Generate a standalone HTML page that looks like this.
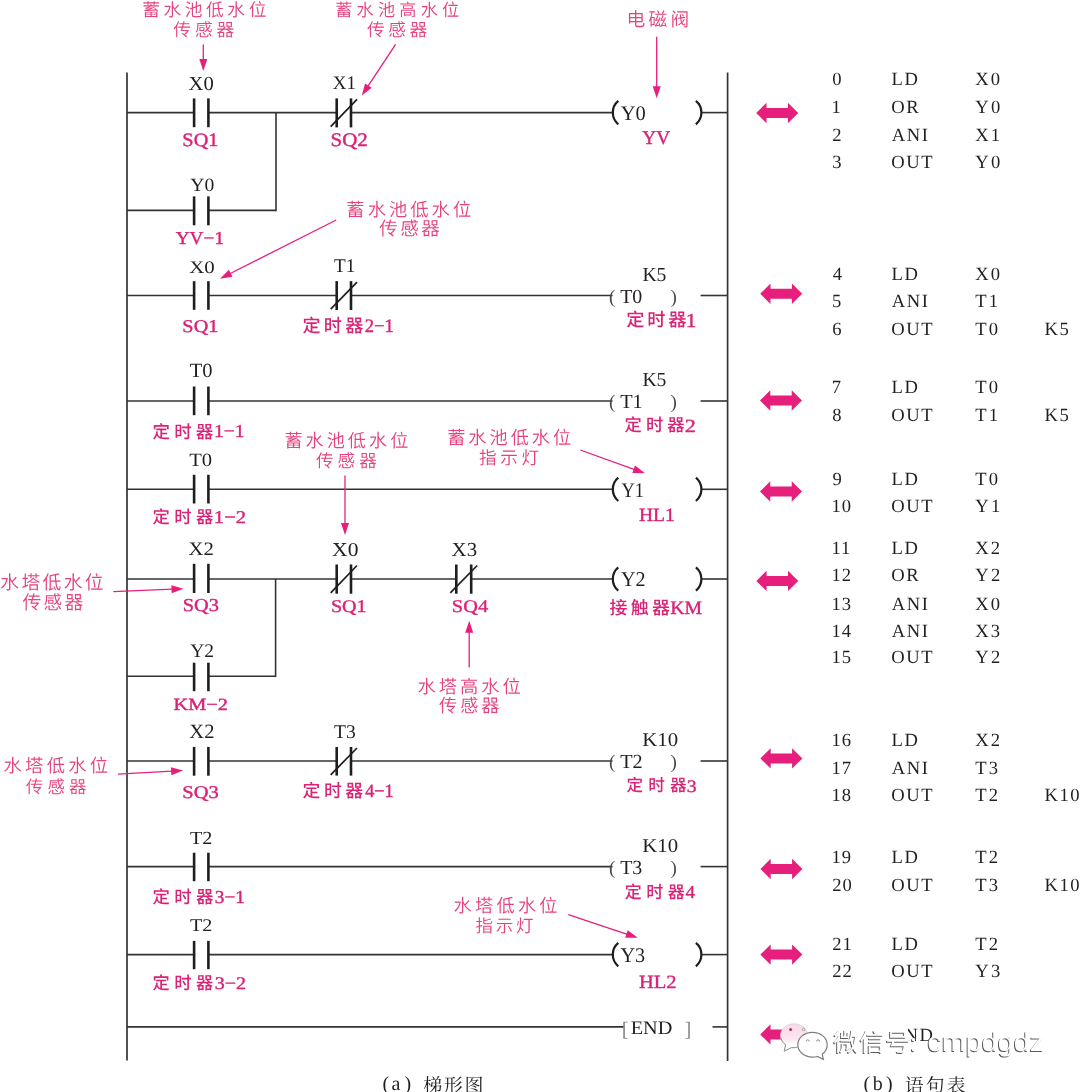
<!DOCTYPE html>
<html><head><meta charset="utf-8"><title>PLC ladder</title>
<style>html,body{margin:0;padding:0;background:#fff;overflow:hidden;width:1080px;height:1092px;}svg{display:block;}</style></head>
<body><svg width="1080" height="1092" viewBox="0 0 1080 1092" text-rendering="geometricPrecision">
<rect width="1080" height="1092" fill="#ffffff"/>
<line x1="127" y1="72.5" x2="127" y2="1060.5" stroke="#333333" stroke-width="1.7"/>
<line x1="727.6" y1="72.5" x2="727.6" y2="1061" stroke="#333333" stroke-width="1.7"/>
<line x1="127" y1="112.6" x2="194.1" y2="112.6" stroke="#333333" stroke-width="1.6"/>
<line x1="208.4" y1="112.6" x2="336.7" y2="112.6" stroke="#333333" stroke-width="1.6"/>
<line x1="351.0" y1="112.6" x2="614" y2="112.6" stroke="#333333" stroke-width="1.6"/>
<line x1="701" y1="112.6" x2="727.6" y2="112.6" stroke="#333333" stroke-width="1.6"/>
<line x1="127" y1="210.4" x2="194.1" y2="210.4" stroke="#333333" stroke-width="1.6"/>
<line x1="208.4" y1="210.4" x2="276" y2="210.4" stroke="#333333" stroke-width="1.6"/>
<line x1="276" y1="112.6" x2="276" y2="211.20000000000002" stroke="#333333" stroke-width="1.6"/>
<line x1="194.1" y1="98.4" x2="194.1" y2="127.2" stroke="#1e1e1e" stroke-width="2.6"/>
<line x1="208.4" y1="98.4" x2="208.4" y2="127.2" stroke="#1e1e1e" stroke-width="2.6"/>
<line x1="194.1" y1="196.4" x2="194.1" y2="225.3" stroke="#1e1e1e" stroke-width="2.6"/>
<line x1="208.4" y1="196.4" x2="208.4" y2="225.3" stroke="#1e1e1e" stroke-width="2.6"/>
<line x1="336.7" y1="98.4" x2="336.7" y2="127.4" stroke="#1e1e1e" stroke-width="2.6"/>
<line x1="351.0" y1="98.4" x2="351.0" y2="127.4" stroke="#1e1e1e" stroke-width="2.6"/>
<line x1="330.7" y1="126.60000000000001" x2="357.0" y2="99.4" stroke="#1e1e1e" stroke-width="1.7"/>
<path d="M618.30,100.90 A15.19,15.19 0 0 0 618.30,124.30" fill="none" stroke="#1e1e1e" stroke-width="2.2"/>
<path d="M695.90,100.90 A15.19,15.19 0 0 1 695.90,124.30" fill="none" stroke="#1e1e1e" stroke-width="2.2"/>
<line x1="127" y1="295.5" x2="194.1" y2="295.5" stroke="#333333" stroke-width="1.6"/>
<line x1="208.4" y1="295.5" x2="336.7" y2="295.5" stroke="#333333" stroke-width="1.6"/>
<line x1="351.0" y1="295.5" x2="612.5" y2="295.5" stroke="#333333" stroke-width="1.6"/>
<line x1="700.6" y1="295.5" x2="727.6" y2="295.5" stroke="#333333" stroke-width="1.6"/>
<line x1="194.1" y1="281.2" x2="194.1" y2="309.8" stroke="#1e1e1e" stroke-width="2.6"/>
<line x1="208.4" y1="281.2" x2="208.4" y2="309.8" stroke="#1e1e1e" stroke-width="2.6"/>
<line x1="336.7" y1="281.1" x2="336.7" y2="310" stroke="#1e1e1e" stroke-width="2.6"/>
<line x1="351.0" y1="281.1" x2="351.0" y2="310" stroke="#1e1e1e" stroke-width="2.6"/>
<line x1="330.7" y1="309.2" x2="357.0" y2="282.1" stroke="#1e1e1e" stroke-width="1.7"/>
<line x1="127" y1="401.0" x2="194.1" y2="401.0" stroke="#333333" stroke-width="1.6"/>
<line x1="208.4" y1="401.0" x2="612.5" y2="401.0" stroke="#333333" stroke-width="1.6"/>
<line x1="700.6" y1="401.0" x2="727.6" y2="401.0" stroke="#333333" stroke-width="1.6"/>
<line x1="194.1" y1="386.5" x2="194.1" y2="415.2" stroke="#1e1e1e" stroke-width="2.6"/>
<line x1="208.4" y1="386.5" x2="208.4" y2="415.2" stroke="#1e1e1e" stroke-width="2.6"/>
<line x1="127" y1="489.3" x2="194.1" y2="489.3" stroke="#333333" stroke-width="1.6"/>
<line x1="208.4" y1="489.3" x2="614" y2="489.3" stroke="#333333" stroke-width="1.6"/>
<line x1="701" y1="489.3" x2="727.6" y2="489.3" stroke="#333333" stroke-width="1.6"/>
<line x1="194.1" y1="474.8" x2="194.1" y2="503.5" stroke="#1e1e1e" stroke-width="2.6"/>
<line x1="208.4" y1="474.8" x2="208.4" y2="503.5" stroke="#1e1e1e" stroke-width="2.6"/>
<path d="M618.30,477.60 A15.19,15.19 0 0 0 618.30,501.00" fill="none" stroke="#1e1e1e" stroke-width="2.2"/>
<path d="M695.90,477.60 A15.19,15.19 0 0 1 695.90,501.00" fill="none" stroke="#1e1e1e" stroke-width="2.2"/>
<line x1="127" y1="579.0" x2="194.1" y2="579.0" stroke="#333333" stroke-width="1.6"/>
<line x1="208.4" y1="579.0" x2="336.7" y2="579.0" stroke="#333333" stroke-width="1.6"/>
<line x1="351.0" y1="579.0" x2="456.3" y2="579.0" stroke="#333333" stroke-width="1.6"/>
<line x1="471.2" y1="579.0" x2="614" y2="579.0" stroke="#333333" stroke-width="1.6"/>
<line x1="701" y1="579.0" x2="727.6" y2="579.0" stroke="#333333" stroke-width="1.6"/>
<line x1="127" y1="676.3" x2="194.1" y2="676.3" stroke="#333333" stroke-width="1.6"/>
<line x1="208.4" y1="676.3" x2="275.6" y2="676.3" stroke="#333333" stroke-width="1.6"/>
<line x1="275.6" y1="579.0" x2="275.6" y2="677.0999999999999" stroke="#333333" stroke-width="1.6"/>
<line x1="194.1" y1="563.8" x2="194.1" y2="593.0" stroke="#1e1e1e" stroke-width="2.6"/>
<line x1="208.4" y1="563.8" x2="208.4" y2="593.0" stroke="#1e1e1e" stroke-width="2.6"/>
<line x1="194.1" y1="662.7" x2="194.1" y2="691.2" stroke="#1e1e1e" stroke-width="2.6"/>
<line x1="208.4" y1="662.7" x2="208.4" y2="691.2" stroke="#1e1e1e" stroke-width="2.6"/>
<line x1="336.7" y1="564.5" x2="336.7" y2="593.7" stroke="#1e1e1e" stroke-width="2.6"/>
<line x1="351.0" y1="564.5" x2="351.0" y2="593.7" stroke="#1e1e1e" stroke-width="2.6"/>
<line x1="330.7" y1="592.9000000000001" x2="357.0" y2="565.5" stroke="#1e1e1e" stroke-width="1.7"/>
<line x1="456.3" y1="564.5" x2="456.3" y2="593.7" stroke="#1e1e1e" stroke-width="2.6"/>
<line x1="471.2" y1="564.5" x2="471.2" y2="593.7" stroke="#1e1e1e" stroke-width="2.6"/>
<line x1="450.3" y1="592.9000000000001" x2="477.2" y2="565.5" stroke="#1e1e1e" stroke-width="1.7"/>
<path d="M618.30,567.30 A15.19,15.19 0 0 0 618.30,590.70" fill="none" stroke="#1e1e1e" stroke-width="2.2"/>
<path d="M695.90,567.30 A15.19,15.19 0 0 1 695.90,590.70" fill="none" stroke="#1e1e1e" stroke-width="2.2"/>
<line x1="127" y1="761.0" x2="194.1" y2="761.0" stroke="#333333" stroke-width="1.6"/>
<line x1="208.4" y1="761.0" x2="336.7" y2="761.0" stroke="#333333" stroke-width="1.6"/>
<line x1="351.0" y1="761.0" x2="612.5" y2="761.0" stroke="#333333" stroke-width="1.6"/>
<line x1="700.6" y1="761.0" x2="727.6" y2="761.0" stroke="#333333" stroke-width="1.6"/>
<line x1="194.1" y1="746.9" x2="194.1" y2="775.7" stroke="#1e1e1e" stroke-width="2.6"/>
<line x1="208.4" y1="746.9" x2="208.4" y2="775.7" stroke="#1e1e1e" stroke-width="2.6"/>
<line x1="336.7" y1="747.0" x2="336.7" y2="775.6" stroke="#1e1e1e" stroke-width="2.6"/>
<line x1="351.0" y1="747.0" x2="351.0" y2="775.6" stroke="#1e1e1e" stroke-width="2.6"/>
<line x1="330.7" y1="774.8000000000001" x2="357.0" y2="748.0" stroke="#1e1e1e" stroke-width="1.7"/>
<line x1="127" y1="866.6" x2="194.1" y2="866.6" stroke="#333333" stroke-width="1.6"/>
<line x1="208.4" y1="866.6" x2="612.5" y2="866.6" stroke="#333333" stroke-width="1.6"/>
<line x1="700.6" y1="866.6" x2="727.6" y2="866.6" stroke="#333333" stroke-width="1.6"/>
<line x1="194.1" y1="852.7" x2="194.1" y2="881.2" stroke="#1e1e1e" stroke-width="2.6"/>
<line x1="208.4" y1="852.7" x2="208.4" y2="881.2" stroke="#1e1e1e" stroke-width="2.6"/>
<line x1="127" y1="954.6" x2="194.1" y2="954.6" stroke="#333333" stroke-width="1.6"/>
<line x1="208.4" y1="954.6" x2="614" y2="954.6" stroke="#333333" stroke-width="1.6"/>
<line x1="701" y1="954.6" x2="727.6" y2="954.6" stroke="#333333" stroke-width="1.6"/>
<line x1="194.1" y1="940.9" x2="194.1" y2="969.2" stroke="#1e1e1e" stroke-width="2.6"/>
<line x1="208.4" y1="940.9" x2="208.4" y2="969.2" stroke="#1e1e1e" stroke-width="2.6"/>
<path d="M618.30,942.90 A15.19,15.19 0 0 0 618.30,966.30" fill="none" stroke="#1e1e1e" stroke-width="2.2"/>
<path d="M695.90,942.90 A15.19,15.19 0 0 1 695.90,966.30" fill="none" stroke="#1e1e1e" stroke-width="2.2"/>
<line x1="127" y1="1026.9" x2="624.5" y2="1026.9" stroke="#333333" stroke-width="1.6"/>
<line x1="712.5" y1="1026.9" x2="727.6" y2="1026.9" stroke="#333333" stroke-width="1.6"/>
<text x="188.59" y="90.20" style="font-family:'Liberation Serif', serif;font-weight:400;font-size:20.00px" fill="#231f20" textLength="25.29" lengthAdjust="spacingAndGlyphs">X0</text>
<text x="190.20" y="190.80" style="font-family:'Liberation Serif', serif;font-weight:400;font-size:18.80px" fill="#231f20" textLength="24.03" lengthAdjust="spacingAndGlyphs">Y0</text>
<text x="332.82" y="89.40" style="font-family:'Liberation Serif', serif;font-weight:400;font-size:19.24px" fill="#231f20" textLength="23.16" lengthAdjust="spacingAndGlyphs">X1</text>
<text x="189.18" y="272.60" style="font-family:'Liberation Serif', serif;font-weight:400;font-size:17.74px" fill="#231f20" textLength="25.60" lengthAdjust="spacingAndGlyphs">X0</text>
<text x="334.02" y="271.70" style="font-family:'Liberation Serif', serif;font-weight:400;font-size:19.39px" fill="#231f20" textLength="21.35" lengthAdjust="spacingAndGlyphs">T1</text>
<text x="189.69" y="377.30" style="font-family:'Liberation Serif', serif;font-weight:400;font-size:20.15px" fill="#231f20" textLength="22.85" lengthAdjust="spacingAndGlyphs">T0</text>
<text x="189.19" y="466.10" style="font-family:'Liberation Serif', serif;font-weight:400;font-size:18.80px" fill="#231f20" textLength="22.96" lengthAdjust="spacingAndGlyphs">T0</text>
<text x="188.59" y="555.10" style="font-family:'Liberation Serif', serif;font-weight:400;font-size:18.94px" fill="#231f20" textLength="25.30" lengthAdjust="spacingAndGlyphs">X2</text>
<text x="332.07" y="555.60" style="font-family:'Liberation Serif', serif;font-weight:400;font-size:19.70px" fill="#231f20" textLength="26.34" lengthAdjust="spacingAndGlyphs">X0</text>
<text x="451.58" y="555.60" style="font-family:'Liberation Serif', serif;font-weight:400;font-size:19.85px" fill="#231f20" textLength="25.50" lengthAdjust="spacingAndGlyphs">X3</text>
<text x="190.20" y="657.00" style="font-family:'Liberation Serif', serif;font-weight:400;font-size:19.24px" fill="#231f20" textLength="23.91" lengthAdjust="spacingAndGlyphs">Y2</text>
<text x="189.39" y="737.90" style="font-family:'Liberation Serif', serif;font-weight:400;font-size:20.30px" fill="#231f20" textLength="25.08" lengthAdjust="spacingAndGlyphs">X2</text>
<text x="334.01" y="737.80" style="font-family:'Liberation Serif', serif;font-weight:400;font-size:19.39px" fill="#231f20" textLength="21.79" lengthAdjust="spacingAndGlyphs">T3</text>
<text x="190.00" y="843.50" style="font-family:'Liberation Serif', serif;font-weight:400;font-size:18.48px" fill="#231f20" textLength="22.43" lengthAdjust="spacingAndGlyphs">T2</text>
<text x="190.00" y="931.30" style="font-family:'Liberation Serif', serif;font-weight:400;font-size:17.88px" fill="#231f20" textLength="22.43" lengthAdjust="spacingAndGlyphs">T2</text>
<text x="182.38" y="146.10" style="font-family:'Liberation Serif', serif;font-weight:400;font-size:18.94px" fill="#da2276" stroke="#da2276" stroke-width="0.4" stroke-linejoin="round" textLength="36.00" lengthAdjust="spacingAndGlyphs">SQ1</text>
<text x="330.54" y="145.50" style="font-family:'Liberation Serif', serif;font-weight:400;font-size:19.24px" fill="#da2276" stroke="#da2276" stroke-width="0.4" stroke-linejoin="round" textLength="37.28" lengthAdjust="spacingAndGlyphs">SQ2</text>
<text x="175.71" y="243.50" style="font-family:'Liberation Serif', serif;font-weight:400;font-size:18.18px" fill="#da2276" stroke="#da2276" stroke-width="0.4" stroke-linejoin="round" textLength="48.32" lengthAdjust="spacingAndGlyphs">YV−1</text>
<text x="182.38" y="331.70" style="font-family:'Liberation Serif', serif;font-weight:400;font-size:18.03px" fill="#da2276" stroke="#da2276" stroke-width="0.4" stroke-linejoin="round" textLength="36.00" lengthAdjust="spacingAndGlyphs">SQ1</text>
<text x="182.68" y="611.30" style="font-family:'Liberation Serif', serif;font-weight:400;font-size:18.18px" fill="#da2276" stroke="#da2276" stroke-width="0.4" stroke-linejoin="round" textLength="36.20" lengthAdjust="spacingAndGlyphs">SQ3</text>
<text x="330.90" y="612.00" style="font-family:'Liberation Serif', serif;font-weight:400;font-size:17.88px" fill="#da2276" stroke="#da2276" stroke-width="0.4" stroke-linejoin="round" textLength="35.57" lengthAdjust="spacingAndGlyphs">SQ1</text>
<text x="451.88" y="612.00" style="font-family:'Liberation Serif', serif;font-weight:400;font-size:17.88px" fill="#da2276" stroke="#da2276" stroke-width="0.4" stroke-linejoin="round" textLength="36.19" lengthAdjust="spacingAndGlyphs">SQ4</text>
<text x="173.49" y="709.70" style="font-family:'Liberation Serif', serif;font-weight:400;font-size:17.12px" fill="#da2276" stroke="#da2276" stroke-width="0.4" stroke-linejoin="round" textLength="54.44" lengthAdjust="spacingAndGlyphs">KM−2</text>
<text x="182.37" y="797.80" style="font-family:'Liberation Serif', serif;font-weight:400;font-size:18.03px" fill="#da2276" stroke="#da2276" stroke-width="0.4" stroke-linejoin="round" textLength="36.52" lengthAdjust="spacingAndGlyphs">SQ3</text>
<text transform="translate(302.47,331.96) scale(1.0,1)" x="0.00 21.35 42.70" y="0" style="font-family:'Noto Sans CJK SC', sans-serif;font-weight:500;font-size:18.09px" fill="#da2276">定时器</text>
<text x="364.66" y="331.90" style="font-family:'Liberation Serif', serif;font-weight:400;font-size:19.09px" fill="#da2276" stroke="#da2276" stroke-width="0.4" stroke-linejoin="round" textLength="29.03" lengthAdjust="spacingAndGlyphs">2−1</text>
<text transform="translate(152.59,437.51) scale(1.0,1)" x="0.00 21.60 43.20" y="0" style="font-family:'Noto Sans CJK SC', sans-serif;font-weight:500;font-size:17.55px" fill="#da2276">定时器</text>
<text x="213.94" y="437.40" style="font-family:'Liberation Serif', serif;font-weight:400;font-size:18.33px" fill="#da2276" stroke="#da2276" stroke-width="0.4" stroke-linejoin="round" textLength="30.51" lengthAdjust="spacingAndGlyphs">1−1</text>
<text transform="translate(152.59,523.13) scale(1.0,1)" x="0.00 21.70 43.40" y="0" style="font-family:'Noto Sans CJK SC', sans-serif;font-weight:500;font-size:17.34px" fill="#da2276">定时器</text>
<text x="213.85" y="523.00" style="font-family:'Liberation Serif', serif;font-weight:400;font-size:18.03px" fill="#da2276" stroke="#da2276" stroke-width="0.4" stroke-linejoin="round" textLength="32.27" lengthAdjust="spacingAndGlyphs">1−2</text>
<text transform="translate(302.47,797.48) scale(1.0,1)" x="0.00 21.45 42.90" y="0" style="font-family:'Noto Sans CJK SC', sans-serif;font-weight:500;font-size:17.87px" fill="#da2276">定时器</text>
<text x="365.14" y="797.40" style="font-family:'Liberation Serif', serif;font-weight:400;font-size:18.79px" fill="#da2276" stroke="#da2276" stroke-width="0.4" stroke-linejoin="round" textLength="28.54" lengthAdjust="spacingAndGlyphs">4−1</text>
<text transform="translate(152.59,903.12) scale(1.0,1)" x="0.00 21.65 43.30" y="0" style="font-family:'Noto Sans CJK SC', sans-serif;font-weight:500;font-size:17.45px" fill="#da2276">定时器</text>
<text x="214.73" y="903.00" style="font-family:'Liberation Serif', serif;font-weight:400;font-size:18.18px" fill="#da2276" stroke="#da2276" stroke-width="0.4" stroke-linejoin="round" textLength="30.21" lengthAdjust="spacingAndGlyphs">3−1</text>
<text transform="translate(152.60,988.74) scale(1.0,1)" x="0.00 21.75 43.50" y="0" style="font-family:'Noto Sans CJK SC', sans-serif;font-weight:500;font-size:17.23px" fill="#da2276">定时器</text>
<text x="214.70" y="988.60" style="font-family:'Liberation Serif', serif;font-weight:400;font-size:17.88px" fill="#da2276" stroke="#da2276" stroke-width="0.4" stroke-linejoin="round" textLength="31.39" lengthAdjust="spacingAndGlyphs">3−2</text>
<text x="620.79" y="120.00" style="font-family:'Liberation Serif', serif;font-weight:400;font-size:20.75px" fill="#231f20" textLength="25.07" lengthAdjust="spacingAndGlyphs">Y0</text>
<text x="621.52" y="497.00" style="font-family:'Liberation Serif', serif;font-weight:400;font-size:20.76px" fill="#231f20" textLength="22.42" lengthAdjust="spacingAndGlyphs">Y1</text>
<text x="620.90" y="585.60" style="font-family:'Liberation Serif', serif;font-weight:400;font-size:21.06px" fill="#231f20" textLength="24.66" lengthAdjust="spacingAndGlyphs">Y2</text>
<text x="620.40" y="962.30" style="font-family:'Liberation Serif', serif;font-weight:400;font-size:20.91px" fill="#231f20" textLength="24.65" lengthAdjust="spacingAndGlyphs">Y3</text>
<text x="642.31" y="144.40" style="font-family:'Liberation Serif', serif;font-weight:400;font-size:19.39px" fill="#da2276" stroke="#da2276" stroke-width="0.4" stroke-linejoin="round" textLength="27.77" lengthAdjust="spacingAndGlyphs">YV</text>
<text x="639.01" y="520.60" style="font-family:'Liberation Serif', serif;font-weight:400;font-size:18.79px" fill="#da2276" stroke="#da2276" stroke-width="0.4" stroke-linejoin="round" textLength="35.82" lengthAdjust="spacingAndGlyphs">HL1</text>
<text x="638.99" y="987.80" style="font-family:'Liberation Serif', serif;font-weight:400;font-size:18.64px" fill="#da2276" stroke="#da2276" stroke-width="0.4" stroke-linejoin="round" textLength="37.50" lengthAdjust="spacingAndGlyphs">HL2</text>
<text transform="translate(609.55,614.07) scale(1.0,1)" x="0.00 21.17 42.34" y="0" style="font-family:'Noto Sans CJK SC', sans-serif;font-weight:500;font-size:17.96px" fill="#da2276">接触器</text>
<text x="670.21" y="614.20" style="font-family:'Liberation Serif', serif;font-weight:400;font-size:18.93px" fill="#da2276" stroke="#da2276" stroke-width="0.4" stroke-linejoin="round" textLength="31.91" lengthAdjust="spacingAndGlyphs">KM</text>
<text x="609.04" y="302.60" style="font-family:'Liberation Serif', serif;font-weight:400;font-size:19.00px" fill="#4a4a4a">(</text>
<text x="620.20" y="302.60" style="font-family:'Liberation Serif', serif;font-weight:400;font-size:19.85px" fill="#231f20" textLength="22.11" lengthAdjust="spacingAndGlyphs">T0</text>
<text x="670.43" y="302.60" style="font-family:'Liberation Serif', serif;font-weight:400;font-size:19.00px" fill="#4a4a4a">)</text>
<text x="642.41" y="280.50" style="font-family:'Liberation Serif', serif;font-weight:400;font-size:19.85px" fill="#231f20" textLength="24.02" lengthAdjust="spacingAndGlyphs">K5</text>
<text transform="translate(626.36,326.25) scale(1.0,1)" x="0.00 20.95 41.90" y="0" style="font-family:'Noto Sans CJK SC', sans-serif;font-weight:500;font-size:18.19px" fill="#da2276">定时器</text>
<text x="685.68" y="326.60" style="font-family:'Liberation Serif', serif;font-weight:400;font-size:19.85px" fill="#da2276" stroke="#da2276" stroke-width="0.4" stroke-linejoin="round" textLength="10.70" lengthAdjust="spacingAndGlyphs">1</text>
<text x="609.04" y="408.10" style="font-family:'Liberation Serif', serif;font-weight:400;font-size:19.00px" fill="#4a4a4a">(</text>
<text x="620.19" y="408.10" style="font-family:'Liberation Serif', serif;font-weight:400;font-size:20.00px" fill="#231f20" textLength="22.54" lengthAdjust="spacingAndGlyphs">T1</text>
<text x="670.43" y="408.10" style="font-family:'Liberation Serif', serif;font-weight:400;font-size:19.00px" fill="#4a4a4a">)</text>
<text x="642.41" y="386.00" style="font-family:'Liberation Serif', serif;font-weight:400;font-size:19.85px" fill="#231f20" textLength="24.02" lengthAdjust="spacingAndGlyphs">K5</text>
<text transform="translate(624.59,431.33) scale(1.0,1)" x="0.00 21.35 42.70" y="0" style="font-family:'Noto Sans CJK SC', sans-serif;font-weight:500;font-size:17.34px" fill="#da2276">定时器</text>
<text x="684.70" y="431.60" style="font-family:'Liberation Serif', serif;font-weight:400;font-size:18.64px" fill="#da2276" stroke="#da2276" stroke-width="0.4" stroke-linejoin="round" textLength="11.12" lengthAdjust="spacingAndGlyphs">2</text>
<text x="609.04" y="768.10" style="font-family:'Liberation Serif', serif;font-weight:400;font-size:19.00px" fill="#4a4a4a">(</text>
<text x="620.20" y="768.10" style="font-family:'Liberation Serif', serif;font-weight:400;font-size:20.00px" fill="#231f20" textLength="22.43" lengthAdjust="spacingAndGlyphs">T2</text>
<text x="670.43" y="768.10" style="font-family:'Liberation Serif', serif;font-weight:400;font-size:19.00px" fill="#4a4a4a">)</text>
<text x="642.17" y="746.00" style="font-family:'Liberation Serif', serif;font-weight:400;font-size:19.55px" fill="#231f20" textLength="35.91" lengthAdjust="spacingAndGlyphs">K10</text>
<text transform="translate(626.62,791.39) scale(1.0,1)" x="0.00 21.70 43.40" y="0" style="font-family:'Noto Sans CJK SC', sans-serif;font-weight:500;font-size:16.60px" fill="#da2276">定时器</text>
<text x="686.81" y="791.60" style="font-family:'Liberation Serif', serif;font-weight:400;font-size:17.58px" fill="#da2276" stroke="#da2276" stroke-width="0.4" stroke-linejoin="round" textLength="9.88" lengthAdjust="spacingAndGlyphs">3</text>
<text x="609.04" y="873.70" style="font-family:'Liberation Serif', serif;font-weight:400;font-size:19.00px" fill="#4a4a4a">(</text>
<text x="620.20" y="873.70" style="font-family:'Liberation Serif', serif;font-weight:400;font-size:20.00px" fill="#231f20" textLength="22.11" lengthAdjust="spacingAndGlyphs">T3</text>
<text x="670.43" y="873.70" style="font-family:'Liberation Serif', serif;font-weight:400;font-size:19.00px" fill="#4a4a4a">)</text>
<text x="642.17" y="851.60" style="font-family:'Liberation Serif', serif;font-weight:400;font-size:19.55px" fill="#231f20" textLength="35.91" lengthAdjust="spacingAndGlyphs">K10</text>
<text transform="translate(624.80,897.55) scale(1.0,1)" x="0.00 21.50 43.00" y="0" style="font-family:'Noto Sans CJK SC', sans-serif;font-weight:500;font-size:17.02px" fill="#da2276">定时器</text>
<text x="685.52" y="897.80" style="font-family:'Liberation Serif', serif;font-weight:400;font-size:18.18px" fill="#da2276" stroke="#da2276" stroke-width="0.4" stroke-linejoin="round" textLength="9.57" lengthAdjust="spacingAndGlyphs">4</text>
<text x="621.76" y="1035.50" style="font-family:'Liberation Serif', serif;font-weight:400;font-size:20.50px" fill="#8a8a8a">[</text>
<text x="630.69" y="1034.20" style="font-family:'Liberation Serif', serif;font-weight:400;font-size:19.08px" fill="#231f20" textLength="41.72" lengthAdjust="spacingAndGlyphs">END</text>
<text x="684.58" y="1035.50" style="font-family:'Liberation Serif', serif;font-weight:400;font-size:20.50px" fill="#8a8a8a">]</text>
<text transform="translate(142.15,15.99) scale(1.0,1)" x="0.00 21.30 42.60 63.91 85.21 106.51" y="0" style="font-family:'Noto Sans CJK SC', sans-serif;font-weight:350;font-size:17.74px" fill="#e6427f">蓄水池低水位</text>
<text transform="translate(173.35,35.58) scale(1.0,1)" x="0.00 21.58 43.17" y="0" style="font-family:'Noto Sans CJK SC', sans-serif;font-weight:350;font-size:17.72px" fill="#e6427f">传感器</text>
<line x1="203.3" y1="44.4" x2="203.3" y2="60.099999999999994" stroke="#e61f7d" stroke-width="1.3"/>
<path d="M203.30,71.10 L199.30,59.10 L207.30,59.10 Z" fill="#e61f7d"/>
<text transform="translate(335.18,15.54) scale(1.0,1)" x="0.00 21.38 42.76 64.13 85.51 106.89" y="0" style="font-family:'Noto Sans CJK SC', sans-serif;font-weight:350;font-size:17.20px" fill="#e6427f">蓄水池高水位</text>
<text transform="translate(367.05,35.58) scale(1.0,1)" x="0.00 21.23 42.47" y="0" style="font-family:'Noto Sans CJK SC', sans-serif;font-weight:350;font-size:17.72px" fill="#e6427f">传感器</text>
<line x1="395.6" y1="44.4" x2="367.86026340723896" y2="86.41995602217064" stroke="#e61f7d" stroke-width="1.3"/>
<path d="M361.80,95.60 L365.07,83.38 L371.75,87.79 Z" fill="#e61f7d"/>
<text transform="translate(626.46,25.80) scale(1.0,1)" x="0.00 21.96 43.93" y="0" style="font-family:'Noto Sans CJK SC', sans-serif;font-weight:350;font-size:18.80px" fill="#e6427f">电磁阀</text>
<line x1="656.7" y1="36.7" x2="656.7" y2="87.3" stroke="#e61f7d" stroke-width="1.3"/>
<path d="M656.70,98.30 L652.70,86.30 L660.70,86.30 Z" fill="#e61f7d"/>
<text transform="translate(346.31,215.85) scale(1.0,1)" x="0.00 21.33 42.65 63.98 85.30 106.63" y="0" style="font-family:'Noto Sans CJK SC', sans-serif;font-weight:350;font-size:18.28px" fill="#e6427f">蓄水池低水位</text>
<text transform="translate(379.23,235.21) scale(1.0,1)" x="0.00 21.02 42.04" y="0" style="font-family:'Noto Sans CJK SC', sans-serif;font-weight:350;font-size:18.59px" fill="#e6427f">传感器</text>
<line x1="336.2" y1="220.0" x2="229.8183366695184" y2="273.74013457400406" stroke="#e61f7d" stroke-width="1.3"/>
<path d="M220.00,278.70 L228.91,269.72 L232.51,276.86 Z" fill="#e61f7d"/>
<text transform="translate(284.42,447.21) scale(1.0,1)" x="0.00 21.15 42.31 63.46 84.62 105.77" y="0" style="font-family:'Noto Sans CJK SC', sans-serif;font-weight:350;font-size:18.12px" fill="#e6427f">蓄水池低水位</text>
<text transform="translate(315.90,466.69) scale(1.0,1)" x="0.00 21.64 43.27" y="0" style="font-family:'Noto Sans CJK SC', sans-serif;font-weight:350;font-size:17.61px" fill="#e6427f">传感器</text>
<line x1="345.0" y1="475.5" x2="345.0" y2="524.0" stroke="#e61f7d" stroke-width="1.3"/>
<path d="M345.00,535.00 L341.00,523.00 L349.00,523.00 Z" fill="#e61f7d"/>
<text transform="translate(447.22,444.36) scale(1.0,1)" x="0.00 21.15 42.29 63.44 84.58 105.73" y="0" style="font-family:'Noto Sans CJK SC', sans-serif;font-weight:350;font-size:18.17px" fill="#e6427f">蓄水池低水位</text>
<text transform="translate(478.88,463.99) scale(1.0,1)" x="0.00 21.36 42.71" y="0" style="font-family:'Noto Sans CJK SC', sans-serif;font-weight:350;font-size:17.61px" fill="#e6427f">指示灯</text>
<line x1="580.3" y1="450.0" x2="634.6506463591721" y2="469.57295301651794" stroke="#e61f7d" stroke-width="1.3"/>
<path d="M645.00,473.30 L632.35,473.00 L635.07,465.47 Z" fill="#e61f7d"/>
<text transform="translate(0.25,589.40) scale(1.0,1)" x="0.00 21.14 42.29 63.43 84.58" y="0" style="font-family:'Noto Sans CJK SC', sans-serif;font-weight:350;font-size:18.82px" fill="#e6427f">水塔低水位</text>
<text transform="translate(22.42,609.10) scale(1.0,1)" x="0.00 21.07 42.14" y="0" style="font-family:'Noto Sans CJK SC', sans-serif;font-weight:350;font-size:18.80px" fill="#e6427f">传感器</text>
<line x1="113.3" y1="591.7" x2="172.51003082406652" y2="589.1696568023904" stroke="#e61f7d" stroke-width="1.3"/>
<path d="M183.50,588.70 L171.68,593.21 L171.34,585.22 Z" fill="#e61f7d"/>
<line x1="469.2" y1="667.5" x2="469.2" y2="631.8" stroke="#e61f7d" stroke-width="1.3"/>
<path d="M469.20,620.80 L473.20,632.80 L465.20,632.80 Z" fill="#e61f7d"/>
<text transform="translate(417.48,692.85) scale(1.0,1)" x="0.00 21.27 42.53 63.80 85.07" y="0" style="font-family:'Noto Sans CJK SC', sans-serif;font-weight:350;font-size:18.28px" fill="#e6427f">水塔高水位</text>
<text transform="translate(439.04,712.45) scale(1.0,1)" x="0.00 21.13 42.26" y="0" style="font-family:'Noto Sans CJK SC', sans-serif;font-weight:350;font-size:18.15px" fill="#e6427f">传感器</text>
<text transform="translate(3.58,772.45) scale(1.0,1)" x="0.00 21.54 43.08 64.62 86.17" y="0" style="font-family:'Noto Sans CJK SC', sans-serif;font-weight:350;font-size:18.28px" fill="#e6427f">水塔低水位</text>
<text transform="translate(25.75,792.50) scale(1.0,1)" x="0.00 21.69 43.37" y="0" style="font-family:'Noto Sans CJK SC', sans-serif;font-weight:350;font-size:17.50px" fill="#e6427f">传感器</text>
<line x1="118.0" y1="774.2" x2="172.11772366539327" y2="771.1241846764676" stroke="#e61f7d" stroke-width="1.3"/>
<path d="M183.10,770.50 L171.35,775.17 L170.89,767.19 Z" fill="#e61f7d"/>
<text transform="translate(453.58,912.36) scale(1.0,1)" x="0.00 21.44 42.88 64.32 85.76" y="0" style="font-family:'Noto Sans CJK SC', sans-serif;font-weight:350;font-size:18.17px" fill="#e6427f">水塔低水位</text>
<text transform="translate(475.49,931.90) scale(1.0,1)" x="0.00 20.26 40.51" y="0" style="font-family:'Noto Sans CJK SC', sans-serif;font-weight:350;font-size:17.50px" fill="#e6427f">指示灯</text>
<line x1="568.3" y1="914.7" x2="627.3614837229161" y2="934.3305075395591" stroke="#e61f7d" stroke-width="1.3"/>
<path d="M637.80,937.80 L625.15,937.81 L627.67,930.22 Z" fill="#e61f7d"/>
<text x="832.26" y="85.00" style="font-family:'Liberation Serif', serif;font-weight:400;font-size:18.60px;letter-spacing:1.0px" fill="#231f20">0</text>
<text x="891.44" y="85.00" style="font-family:'Liberation Serif', serif;font-weight:400;font-size:18.60px;letter-spacing:1.6px" fill="#231f20">LD</text>
<text x="975.13" y="85.00" style="font-family:'Liberation Serif', serif;font-weight:400;font-size:18.60px;letter-spacing:2.2px" fill="#231f20">X0</text>
<text x="831.42" y="112.70" style="font-family:'Liberation Serif', serif;font-weight:400;font-size:18.60px;letter-spacing:1.0px" fill="#231f20">1</text>
<text x="891.26" y="112.70" style="font-family:'Liberation Serif', serif;font-weight:400;font-size:18.60px;letter-spacing:1.6px" fill="#231f20">OR</text>
<text x="975.31" y="112.70" style="font-family:'Liberation Serif', serif;font-weight:400;font-size:18.60px;letter-spacing:2.2px" fill="#231f20">Y0</text>
<text x="832.16" y="140.50" style="font-family:'Liberation Serif', serif;font-weight:400;font-size:18.60px;letter-spacing:1.0px" fill="#231f20">2</text>
<text x="891.81" y="140.50" style="font-family:'Liberation Serif', serif;font-weight:400;font-size:18.60px;letter-spacing:1.6px" fill="#231f20">ANI</text>
<text x="975.13" y="140.50" style="font-family:'Liberation Serif', serif;font-weight:400;font-size:18.60px;letter-spacing:2.2px" fill="#231f20">X1</text>
<text x="832.16" y="168.30" style="font-family:'Liberation Serif', serif;font-weight:400;font-size:18.60px;letter-spacing:1.0px" fill="#231f20">3</text>
<text x="891.26" y="168.30" style="font-family:'Liberation Serif', serif;font-weight:400;font-size:18.60px;letter-spacing:1.6px" fill="#231f20">OUT</text>
<text x="975.31" y="168.30" style="font-family:'Liberation Serif', serif;font-weight:400;font-size:18.60px;letter-spacing:2.2px" fill="#231f20">Y0</text>
<text x="832.63" y="280.00" style="font-family:'Liberation Serif', serif;font-weight:400;font-size:18.60px;letter-spacing:1.0px" fill="#231f20">4</text>
<text x="891.44" y="280.00" style="font-family:'Liberation Serif', serif;font-weight:400;font-size:18.60px;letter-spacing:1.6px" fill="#231f20">LD</text>
<text x="975.13" y="280.00" style="font-family:'Liberation Serif', serif;font-weight:400;font-size:18.60px;letter-spacing:2.2px" fill="#231f20">X0</text>
<text x="831.88" y="307.20" style="font-family:'Liberation Serif', serif;font-weight:400;font-size:18.60px;letter-spacing:1.0px" fill="#231f20">5</text>
<text x="891.81" y="307.20" style="font-family:'Liberation Serif', serif;font-weight:400;font-size:18.60px;letter-spacing:1.6px" fill="#231f20">ANI</text>
<text x="975.13" y="307.20" style="font-family:'Liberation Serif', serif;font-weight:400;font-size:18.60px;letter-spacing:2.2px" fill="#231f20">T1</text>
<text x="832.26" y="335.30" style="font-family:'Liberation Serif', serif;font-weight:400;font-size:18.60px;letter-spacing:1.0px" fill="#231f20">6</text>
<text x="891.26" y="335.30" style="font-family:'Liberation Serif', serif;font-weight:400;font-size:18.60px;letter-spacing:1.6px" fill="#231f20">OUT</text>
<text x="975.13" y="335.30" style="font-family:'Liberation Serif', serif;font-weight:400;font-size:18.60px;letter-spacing:2.2px" fill="#231f20">T0</text>
<text x="1044.44" y="335.30" style="font-family:'Liberation Serif', serif;font-weight:400;font-size:18.60px;letter-spacing:1.6px" fill="#231f20">K5</text>
<text x="831.79" y="393.00" style="font-family:'Liberation Serif', serif;font-weight:400;font-size:18.60px;letter-spacing:1.0px" fill="#231f20">7</text>
<text x="891.44" y="393.00" style="font-family:'Liberation Serif', serif;font-weight:400;font-size:18.60px;letter-spacing:1.6px" fill="#231f20">LD</text>
<text x="975.13" y="393.00" style="font-family:'Liberation Serif', serif;font-weight:400;font-size:18.60px;letter-spacing:2.2px" fill="#231f20">T0</text>
<text x="832.26" y="421.00" style="font-family:'Liberation Serif', serif;font-weight:400;font-size:18.60px;letter-spacing:1.0px" fill="#231f20">8</text>
<text x="891.26" y="421.00" style="font-family:'Liberation Serif', serif;font-weight:400;font-size:18.60px;letter-spacing:1.6px" fill="#231f20">OUT</text>
<text x="975.13" y="421.00" style="font-family:'Liberation Serif', serif;font-weight:400;font-size:18.60px;letter-spacing:2.2px" fill="#231f20">T1</text>
<text x="1044.44" y="421.00" style="font-family:'Liberation Serif', serif;font-weight:400;font-size:18.60px;letter-spacing:1.6px" fill="#231f20">K5</text>
<text x="832.44" y="484.60" style="font-family:'Liberation Serif', serif;font-weight:400;font-size:18.60px;letter-spacing:1.0px" fill="#231f20">9</text>
<text x="891.44" y="484.60" style="font-family:'Liberation Serif', serif;font-weight:400;font-size:18.60px;letter-spacing:1.6px" fill="#231f20">LD</text>
<text x="975.13" y="484.60" style="font-family:'Liberation Serif', serif;font-weight:400;font-size:18.60px;letter-spacing:2.2px" fill="#231f20">T0</text>
<text x="831.42" y="512.00" style="font-family:'Liberation Serif', serif;font-weight:400;font-size:18.60px;letter-spacing:1.0px" fill="#231f20">10</text>
<text x="891.26" y="512.00" style="font-family:'Liberation Serif', serif;font-weight:400;font-size:18.60px;letter-spacing:1.6px" fill="#231f20">OUT</text>
<text x="975.31" y="512.00" style="font-family:'Liberation Serif', serif;font-weight:400;font-size:18.60px;letter-spacing:2.2px" fill="#231f20">Y1</text>
<text x="831.42" y="554.00" style="font-family:'Liberation Serif', serif;font-weight:400;font-size:18.60px;letter-spacing:1.0px" fill="#231f20">11</text>
<text x="891.44" y="554.00" style="font-family:'Liberation Serif', serif;font-weight:400;font-size:18.60px;letter-spacing:1.6px" fill="#231f20">LD</text>
<text x="975.13" y="554.00" style="font-family:'Liberation Serif', serif;font-weight:400;font-size:18.60px;letter-spacing:2.2px" fill="#231f20">X2</text>
<text x="831.42" y="581.40" style="font-family:'Liberation Serif', serif;font-weight:400;font-size:18.60px;letter-spacing:1.0px" fill="#231f20">12</text>
<text x="891.26" y="581.40" style="font-family:'Liberation Serif', serif;font-weight:400;font-size:18.60px;letter-spacing:1.6px" fill="#231f20">OR</text>
<text x="975.31" y="581.40" style="font-family:'Liberation Serif', serif;font-weight:400;font-size:18.60px;letter-spacing:2.2px" fill="#231f20">Y2</text>
<text x="831.42" y="609.70" style="font-family:'Liberation Serif', serif;font-weight:400;font-size:18.60px;letter-spacing:1.0px" fill="#231f20">13</text>
<text x="891.81" y="609.70" style="font-family:'Liberation Serif', serif;font-weight:400;font-size:18.60px;letter-spacing:1.6px" fill="#231f20">ANI</text>
<text x="975.13" y="609.70" style="font-family:'Liberation Serif', serif;font-weight:400;font-size:18.60px;letter-spacing:2.2px" fill="#231f20">X0</text>
<text x="831.42" y="637.10" style="font-family:'Liberation Serif', serif;font-weight:400;font-size:18.60px;letter-spacing:1.0px" fill="#231f20">14</text>
<text x="891.81" y="637.10" style="font-family:'Liberation Serif', serif;font-weight:400;font-size:18.60px;letter-spacing:1.6px" fill="#231f20">ANI</text>
<text x="975.13" y="637.10" style="font-family:'Liberation Serif', serif;font-weight:400;font-size:18.60px;letter-spacing:2.2px" fill="#231f20">X3</text>
<text x="831.42" y="663.30" style="font-family:'Liberation Serif', serif;font-weight:400;font-size:18.60px;letter-spacing:1.0px" fill="#231f20">15</text>
<text x="891.26" y="663.30" style="font-family:'Liberation Serif', serif;font-weight:400;font-size:18.60px;letter-spacing:1.6px" fill="#231f20">OUT</text>
<text x="975.31" y="663.30" style="font-family:'Liberation Serif', serif;font-weight:400;font-size:18.60px;letter-spacing:2.2px" fill="#231f20">Y2</text>
<text x="831.42" y="745.80" style="font-family:'Liberation Serif', serif;font-weight:400;font-size:18.60px;letter-spacing:1.0px" fill="#231f20">16</text>
<text x="891.44" y="745.80" style="font-family:'Liberation Serif', serif;font-weight:400;font-size:18.60px;letter-spacing:1.6px" fill="#231f20">LD</text>
<text x="975.13" y="745.80" style="font-family:'Liberation Serif', serif;font-weight:400;font-size:18.60px;letter-spacing:2.2px" fill="#231f20">X2</text>
<text x="831.42" y="773.50" style="font-family:'Liberation Serif', serif;font-weight:400;font-size:18.60px;letter-spacing:1.0px" fill="#231f20">17</text>
<text x="891.81" y="773.50" style="font-family:'Liberation Serif', serif;font-weight:400;font-size:18.60px;letter-spacing:1.6px" fill="#231f20">ANI</text>
<text x="975.13" y="773.50" style="font-family:'Liberation Serif', serif;font-weight:400;font-size:18.60px;letter-spacing:2.2px" fill="#231f20">T3</text>
<text x="831.42" y="801.00" style="font-family:'Liberation Serif', serif;font-weight:400;font-size:18.60px;letter-spacing:1.0px" fill="#231f20">18</text>
<text x="891.26" y="801.00" style="font-family:'Liberation Serif', serif;font-weight:400;font-size:18.60px;letter-spacing:1.6px" fill="#231f20">OUT</text>
<text x="975.13" y="801.00" style="font-family:'Liberation Serif', serif;font-weight:400;font-size:18.60px;letter-spacing:2.2px" fill="#231f20">T2</text>
<text x="1044.44" y="801.00" style="font-family:'Liberation Serif', serif;font-weight:400;font-size:18.60px;letter-spacing:1.6px" fill="#231f20">K10</text>
<text x="831.42" y="863.30" style="font-family:'Liberation Serif', serif;font-weight:400;font-size:18.60px;letter-spacing:1.0px" fill="#231f20">19</text>
<text x="891.44" y="863.30" style="font-family:'Liberation Serif', serif;font-weight:400;font-size:18.60px;letter-spacing:1.6px" fill="#231f20">LD</text>
<text x="975.13" y="863.30" style="font-family:'Liberation Serif', serif;font-weight:400;font-size:18.60px;letter-spacing:2.2px" fill="#231f20">T2</text>
<text x="832.16" y="890.70" style="font-family:'Liberation Serif', serif;font-weight:400;font-size:18.60px;letter-spacing:1.0px" fill="#231f20">20</text>
<text x="891.26" y="890.70" style="font-family:'Liberation Serif', serif;font-weight:400;font-size:18.60px;letter-spacing:1.6px" fill="#231f20">OUT</text>
<text x="975.13" y="890.70" style="font-family:'Liberation Serif', serif;font-weight:400;font-size:18.60px;letter-spacing:2.2px" fill="#231f20">T3</text>
<text x="1044.44" y="890.70" style="font-family:'Liberation Serif', serif;font-weight:400;font-size:18.60px;letter-spacing:1.6px" fill="#231f20">K10</text>
<text x="832.16" y="949.80" style="font-family:'Liberation Serif', serif;font-weight:400;font-size:18.60px;letter-spacing:1.0px" fill="#231f20">21</text>
<text x="891.44" y="949.80" style="font-family:'Liberation Serif', serif;font-weight:400;font-size:18.60px;letter-spacing:1.6px" fill="#231f20">LD</text>
<text x="975.13" y="949.80" style="font-family:'Liberation Serif', serif;font-weight:400;font-size:18.60px;letter-spacing:2.2px" fill="#231f20">T2</text>
<text x="832.16" y="976.60" style="font-family:'Liberation Serif', serif;font-weight:400;font-size:18.60px;letter-spacing:1.0px" fill="#231f20">22</text>
<text x="891.26" y="976.60" style="font-family:'Liberation Serif', serif;font-weight:400;font-size:18.60px;letter-spacing:1.6px" fill="#231f20">OUT</text>
<text x="975.31" y="976.60" style="font-family:'Liberation Serif', serif;font-weight:400;font-size:18.60px;letter-spacing:2.2px" fill="#231f20">Y3</text>
<text x="832.16" y="1041.00" style="font-family:'Liberation Serif', serif;font-weight:400;font-size:18.60px;letter-spacing:1.0px" fill="#231f20">23</text>
<text x="891.44" y="1041.00" style="font-family:'Liberation Serif', serif;font-weight:400;font-size:18.60px;letter-spacing:1.6px" fill="#231f20">END</text>
<polygon points="756.2,113.0 766.5,102.8 766.5,108.0 787.9,108.0 787.9,102.8 798.2,113.0 787.9,123.2 787.9,118.0 766.5,118.0 766.5,123.2" fill="#e61f7d"/>
<polygon points="760.2,293.7 770.5,283.5 770.5,288.7 791.9,288.7 791.9,283.5 802.2,293.7 791.9,303.9 791.9,298.7 770.5,298.7 770.5,303.9" fill="#e61f7d"/>
<polygon points="760.0,400.5 770.3,390.3 770.3,395.5 791.7,395.5 791.7,390.3 802.0,400.5 791.7,410.7 791.7,405.5 770.3,405.5 770.3,410.7" fill="#e61f7d"/>
<polygon points="760.0,491.5 770.3,481.3 770.3,486.5 791.7,486.5 791.7,481.3 802.0,491.5 791.7,501.7 791.7,496.5 770.3,496.5 770.3,501.7" fill="#e61f7d"/>
<polygon points="756.3,580.9 766.6,570.7 766.6,575.9 788.0,575.9 788.0,570.7 798.3,580.9 788.0,591.1 788.0,585.9 766.6,585.9 766.6,591.1" fill="#e61f7d"/>
<polygon points="760.4,758.4 770.7,748.2 770.7,753.4 792.1,753.4 792.1,748.2 802.4,758.4 792.1,768.6 792.1,763.4 770.7,763.4 770.7,768.6" fill="#e61f7d"/>
<polygon points="760.4,869.0 770.7,858.8 770.7,864.0 792.1,864.0 792.1,858.8 802.4,869.0 792.1,879.2 792.1,874.0 770.7,874.0 770.7,879.2" fill="#e61f7d"/>
<polygon points="760.4,954.6 770.7,944.4 770.7,949.6 792.1,949.6 792.1,944.4 802.4,954.6 792.1,964.8 792.1,959.6 770.7,959.6 770.7,964.8" fill="#e61f7d"/>
<polygon points="760.2,1034.4 770.5,1024.3 770.5,1029.4 782,1029.4 782,1039.4 770.5,1039.4 770.5,1044.5" fill="#e61f7d"/>
<text x="382.40" y="1089.60" style="font-family:'Liberation Serif', serif;font-weight:400;font-size:20.00px" fill="#231f20">(</text>
<text x="391.50" y="1089.60" style="font-family:'Liberation Serif', serif;font-weight:400;font-size:20.00px" fill="#231f20">a</text>
<text x="404.40" y="1089.60" style="font-family:'Liberation Serif', serif;font-weight:400;font-size:20.00px" fill="#231f20">)</text>
<text transform="translate(423.23,1091.68) scale(1.0,1)" x="0.00 20.63 41.27" y="0" style="font-family:'Liberation Serif', 'Noto Serif CJK SC', serif;font-weight:400;font-size:19.03px" fill="#231f20">梯形图</text>
<text x="863.50" y="1089.60" style="font-family:'Liberation Serif', serif;font-weight:400;font-size:20.00px" fill="#231f20">(</text>
<text x="872.80" y="1089.60" style="font-family:'Liberation Serif', serif;font-weight:400;font-size:20.00px" fill="#231f20">b</text>
<text x="886.10" y="1089.60" style="font-family:'Liberation Serif', serif;font-weight:400;font-size:20.00px" fill="#231f20">)</text>
<text transform="translate(904.85,1091.61) scale(1.0,1)" x="0.00 20.94 41.89" y="0" style="font-family:'Liberation Serif', 'Noto Serif CJK SC', serif;font-weight:400;font-size:18.83px" fill="#231f20">语句表</text>
<rect x="829" y="1020" width="79" height="26" fill="#ffffff"/>

<defs><linearGradient id="bb" x1="0" y1="0" x2="0" y2="1"><stop offset="0" stop-color="#f9d9e8"/><stop offset="0.55" stop-color="#fbe6ef"/><stop offset="0.75" stop-color="#ffffff"/></linearGradient></defs>
<g>
 <path d="M794,1023.8 C786,1023.8 780.6,1029.2 780.6,1035.6 C780.6,1039.4 782.6,1042.6 785.6,1044.8 L784.2,1051.2 L791.6,1047.6 C792.4,1047.7 793.2,1047.8 794,1047.8 C802,1047.8 807.6,1042.4 807.6,1035.8 C807.6,1029.2 802,1023.8 794,1023.8 Z" fill="url(#bb)" stroke="#d4d4d4" stroke-width="0.8"/>
 <path d="M780.9,1038 C781.6,1041 783.2,1043.2 785.6,1044.8 L784.2,1051.2 L791.6,1047.6 C793.4,1047.8 795.6,1047.6 797.4,1047.2" fill="none" stroke="#8a8a8a" stroke-width="0.9"/>
 <circle cx="790.6" cy="1029.4" r="1.5" fill="#a8306c"/>
 <circle cx="803.6" cy="1029.4" r="1.3" fill="none" stroke="#9a9a9a" stroke-width="0.8"/>
 <path d="M812.5,1032.3 C804.4,1032.3 797.8,1037.6 797.8,1044.8 C797.8,1051.8 804.4,1057.1 812.5,1057.1 C814.2,1057.1 815.8,1056.9 817.3,1056.5 L823.4,1059.4 L822.2,1054.2 C825.4,1051.9 827.2,1048.5 827.2,1044.8 C827.2,1037.6 820.6,1032.3 812.5,1032.3 Z" fill="#ffffff" stroke="#7e7e7e" stroke-width="1.2"/>
 <path d="M806.2,1041.4 a1.5,1.6 0 0 1 3,0" fill="none" stroke="#8a8a8a" stroke-width="1"/>
 <path d="M816.6,1041.4 a1.5,1.6 0 0 1 3,0" fill="none" stroke="#8a8a8a" stroke-width="1"/>
</g>

<g transform="translate(-1.0,1.0)">
<text transform="translate(833.5,1051.3)" x="0 26 52" y="0" style="font-family:'Noto Sans CJK SC',sans-serif;font-weight:400;font-size:25px" fill="#5a5a5a">微信号</text>
<text x="910" y="1051.3" style="font-family:'Noto Sans CJK SC',sans-serif;font-weight:400;font-size:25px" fill="#5a5a5a">:</text>
<text x="927.5" y="1051.3" style="font-family:'Liberation Sans',sans-serif;font-weight:400;font-size:27px" fill="#5a5a5a" textLength="116.5" lengthAdjust="spacingAndGlyphs">cmpdgdz</text>
</g>
<g transform="translate(0,0)">
<text transform="translate(833.5,1051.3)" x="0 26 52" y="0" style="font-family:'Noto Sans CJK SC',sans-serif;font-weight:400;font-size:25px" fill="#ffffff">微信号</text>
<text x="910" y="1051.3" style="font-family:'Noto Sans CJK SC',sans-serif;font-weight:400;font-size:25px" fill="#ffffff">:</text>
<text x="927.5" y="1051.3" style="font-family:'Liberation Sans',sans-serif;font-weight:400;font-size:27px" fill="#ffffff" textLength="116.5" lengthAdjust="spacingAndGlyphs">cmpdgdz</text>
</g>
</svg></body></html>
